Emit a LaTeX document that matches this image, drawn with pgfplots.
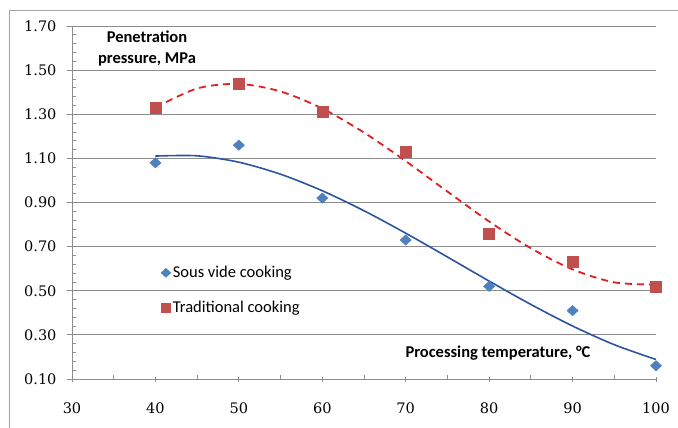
\documentclass[border=0pt]{standalone}
\usepackage{pgfplots}
\pgfplotsset{compat=1.18}
\usepackage{fontspec}
\setmainfont{Carlito}
\newfontfamily\tickfont{DejaVu Serif}
\definecolor{gridgray}{HTML}{8C8C8C}
\definecolor{sousblue}{HTML}{4F81BD}
\definecolor{lineblue}{HTML}{2B55A0}
\definecolor{tradred}{HTML}{C0504D}
\definecolor{linered}{HTML}{E41E1E}
\begin{document}
\begin{tikzpicture}
\useasboundingbox (0,0) rectangle (678pt,-428pt);
\draw[gridgray!80, line width=1pt] (9.5pt,-440pt) -- (9.5pt,-11pt) -- (690pt,-11pt);
\begin{axis}[
  at={(72pt,-379pt)}, anchor=south west,
  scale only axis, width=584pt, height=353pt,
  xmin=30, xmax=100, ymin=0.1, ymax=1.7,
  axis x line*=bottom, axis y line*=left,
  axis line style={gridgray, line width=0.9pt},
  xtick={30,40,50,60,70,80,90,100},
  ytick={0.1,0.3,0.5,0.7,0.9,1.1,1.3,1.5,1.7},
  minor x tick num=1, minor y tick num=4,
  tick align=inside,
  major tick length=5pt, minor tick length=4pt,
  tick style={gridgray, line width=0.8pt},
  every major y tick/.append style={xshift=-5pt},
  every major x tick/.append style={yshift=-2.5pt},
  ymajorgrids, grid style={gridgray, line width=0.9pt},
  ticklabel style={font=\tickfont\fontsize{14.5}{16}\selectfont},
  /pgf/number format/assume math mode=true,
  yticklabel style={/pgf/number format/fixed, /pgf/number format/fixed zerofill, /pgf/number format/precision=2, xshift=-12pt},
  xticklabel style={yshift=-20pt},
  legend style={draw=none, fill=none, at={(0.147,0.331)}, anchor=north west,
    font=\fontsize{16.5}{19}\selectfont, row sep=18pt,
    /tikz/every even column/.append style={column sep=1pt}},
  legend image post style={mark size=4.5pt},
  legend cell align=left,
  clip=false,
]
\addplot[only marks, mark=diamond*, mark size=5.2pt, color=sousblue, mark options={fill=sousblue, draw=sousblue, xscale=1.45}]
  coordinates {(40,1.08) (50,1.16) (60,0.92) (70,0.73) (80,0.52) (90,0.41) (100,0.16)};
\addlegendentry{Sous vide cooking}
\addplot[only marks, mark=square*, mark size=5.5pt, color=tradred, mark options={fill=tradred, draw=tradred}]
  coordinates {(40,1.33) (50,1.44) (60,1.31) (70,1.13) (80,0.76) (90,0.63) (100,0.52)};
\addlegendentry{Traditional cooking}
\addplot[forget plot, smooth, lineblue, line width=1.6pt]
  coordinates {(40,1.1105) (45,1.1116) (50,1.0826) (55,1.0282) (60,0.9532) (65,0.8626) (70,0.7609) (75,0.6531) (80,0.5438) (85,0.4380) (90,0.3402) (95,0.2555) (100,0.1885)};
\addplot[forget plot, smooth, linered, line width=1.8pt, dash pattern=on 7pt off 5pt]
  coordinates {(40,1.3302) (45,1.4169) (50,1.4374) (55,1.4033) (60,1.3260) (65,1.2169) (70,1.0876) (75,0.9495) (80,0.8140) (85,0.6927) (90,0.5969) (95,0.5381) (100,0.5279)};
\end{axis}
\node[font=\bfseries\fontsize{16.5}{21}\selectfont, align=center] at (147pt,-48.5pt) {Penetration\\pressure, MPa};
\node[font=\bfseries\fontsize{16.5}{18}\selectfont] at (498pt,-353pt) {Processing temperature, °C};
\end{tikzpicture}
\end{document}
